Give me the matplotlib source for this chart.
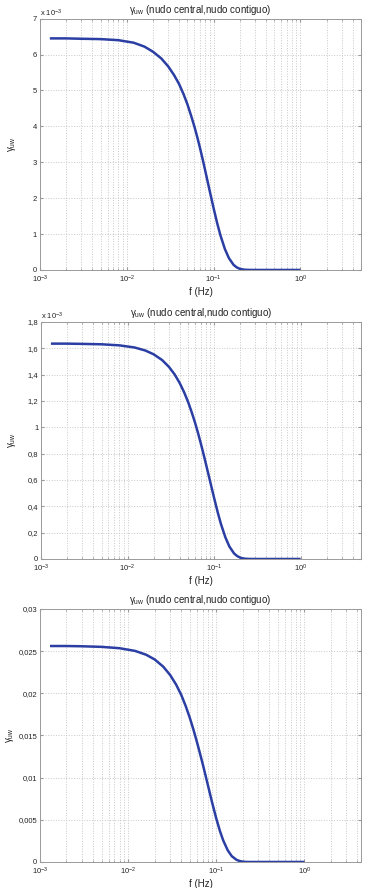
import matplotlib
matplotlib.use("Agg")
import matplotlib.pyplot as plt
from matplotlib.ticker import FuncFormatter, LogLocator, NullFormatter

plt.rcParams['font.family'] = ['Liberation Sans', 'DejaVu Sans']
plt.rcParams['mathtext.fontset'] = 'custom'
plt.rcParams['mathtext.rm'] = 'Liberation Sans'
plt.rcParams['mathtext.it'] = 'Liberation Sans:italic'

# frequencies (Hz)
freq = [0.0013, 0.002, 0.003, 0.005, 0.008, 0.012, 0.016, 0.02, 0.025, 0.03,
        0.035, 0.04, 0.045, 0.05, 0.055, 0.06, 0.065, 0.07, 0.075, 0.08,
        0.09, 0.1, 0.11, 0.12, 0.135, 0.15, 0.17, 0.185, 0.2, 0.215,
        0.23, 0.25, 0.27, 0.32, 0.4, 0.5, 0.7, 1.0]

# panel 1 (x 1e-3)
gamma1 = [6.45, 6.45, 6.44, 6.43, 6.40, 6.33, 6.22, 6.08, 5.89, 5.67,
          5.43, 5.18, 4.90, 4.61, 4.30, 4.00, 3.69, 3.38, 3.07, 2.77,
          2.21, 1.72, 1.30, 0.96, 0.58, 0.33, 0.14, 0.07, 0.033, 0.015,
          0.006, 0.002, 0.0004, 0.0, 0.0, 0.0, 0.0, 0.0]
# panel 2 (x 1e-3)
gamma2 = [1.635, 1.635, 1.633, 1.630, 1.622, 1.606, 1.583, 1.554, 1.511, 1.459,
          1.401, 1.336, 1.266, 1.193, 1.115, 1.038, 0.959, 0.880, 0.803, 0.728,
          0.588, 0.463, 0.355, 0.265, 0.164, 0.095, 0.042, 0.022, 0.0105, 0.0047,
          0.0021, 0.0006, 0.0002, 0.0, 0.0, 0.0, 0.0, 0.0]
# panel 3
gamma3 = [0.0256, 0.0256, 0.02557, 0.0255, 0.02534, 0.02502, 0.02457, 0.02401, 0.02316, 0.02216,
          0.02104, 0.01982, 0.01849, 0.01712, 0.01572, 0.01433, 0.01296, 0.01167, 0.0104, 0.0092,
          0.007, 0.00516, 0.00368, 0.00255, 0.00138, 0.00069, 0.00025, 0.00011, 0.00004, 0.00001,
          0.0, 0.0, 0.0, 0.0, 0.0, 0.0, 0.0, 0.0]

yticks1 = [0, 1, 2, 3, 4, 5, 6, 7]
yticks2 = [0, 0.2, 0.4, 0.6, 0.8, 1.0, 1.2, 1.4, 1.6, 1.8]
yticks3 = [0, 0.005, 0.01, 0.015, 0.02, 0.025, 0.03]

title = u'\u03b3$_{\\mathrm{uw}}$ (nudo central,nudo contiguo)'
ylab = u'\u03b3$_{\\mathrm{uw}}$'
xlab = 'f (Hz)'

line_col = '#2b3ea3'
grid_col = '#c8c8c8'
axis_col = '#9a9a9a'
txt_col = '#222222'


def comma(v, pos):
    s = ('%g' % v)
    return s.replace('.', ',')


fig = plt.figure(figsize=(3.7, 8.88), dpi=100)

panels = [
    ([0.108, 0.696, 0.868, 0.283], gamma1, yticks1, 7, True, 5.0, 12),
    ([0.111, 0.3705, 0.865, 0.267], gamma2, yticks2, 1.8, True, 5.0, 12),
    ([0.108, 0.0293, 0.868, 0.285], gamma3, yticks3, 0.03, False, 4.4, 10),
]

for pos, g, yt, ytop, offs, xr, ylx in panels:
    ax = fig.add_axes(pos)
    ax.plot(freq, g, color=line_col, lw=1.8, solid_capstyle='butt')
    ax.set_xscale('log')
    ax.set_xlim(1e-3, xr)
    ax.set_ylim(0, ytop)
    ax.set_yticks(yt)
    ax.yaxis.set_major_formatter(FuncFormatter(comma))
    ax.xaxis.set_major_locator(LogLocator(base=10, numticks=10))
    ax.xaxis.set_minor_locator(LogLocator(base=10, subs=range(2, 10), numticks=20))
    ax.xaxis.set_minor_formatter(NullFormatter())
    ax.grid(True, which='major', axis='both', color=grid_col, ls=':', lw=0.7)
    ax.grid(True, which='minor', axis='x', color=grid_col, ls=':', lw=0.7)
    ax.tick_params(which='both', direction='in', labelsize=5.5, color=axis_col,
                   labelcolor=txt_col, length=2.5, pad=2, top=True, right=True)
    ax.tick_params(axis='x', pad=3)
    ax.tick_params(which='minor', length=1.5)
    for sp in ax.spines.values():
        sp.set_color(axis_col)
        sp.set_linewidth(0.7)
    ax.set_title(title, fontsize=7, pad=4, color=txt_col)
    ax.set_xlabel(xlab, fontsize=7, labelpad=1, color=txt_col)
    # y label at a fixed place left of every panel
    fig.text(ylx / 370, pos[1] + pos[3] / 2, ylab, fontsize=7, rotation=90,
             ha='center', va='center', color=txt_col)
    if offs:
        ax.text(0.0, 1.0, r'x 10$^{-3}$', transform=ax.transAxes, fontsize=5.5,
                ha='left', va='bottom', color=txt_col)

fig.savefig('out.png', dpi=100)
